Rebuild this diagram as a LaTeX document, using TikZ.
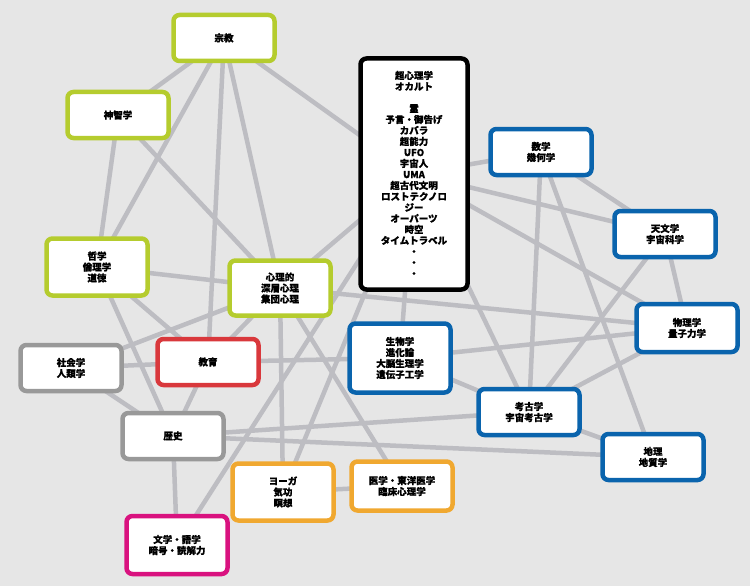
\documentclass[tikz,border=0pt]{standalone}
\usepackage{fontspec}
\setmainfont[FakeBold=0.6]{Noto Sans CJK JP}
\usetikzlibrary{backgrounds}
\definecolor{bg}{HTML}{E6E6E6}
\definecolor{link}{HTML}{BDBDC2}
\definecolor{lime}{HTML}{B5CC2E}
\definecolor{rouge}{HTML}{D9383C}
\definecolor{slate}{HTML}{999999}
\definecolor{ocean}{HTML}{0A64AD}
\definecolor{amber}{HTML}{F0A830}
\definecolor{magenta2}{HTML}{D9127F}
\tikzset{
  every picture/.style={font={\fontsize{9.5}{11}\selectfont\bfseries}},
  topic/.style={draw, fill=white, line width=4.5pt, rounded corners=6pt,
    align=center, inner sep=0pt, minimum width=101pt, minimum height=46pt},
  link/.style={draw=link, line width=4.5pt}}

\begin{document}
\begin{tikzpicture}[x=1pt, y=-1pt]
  \useasboundingbox (0,0) rectangle (750,586);

  % spiritual / humanities
  \node[topic, draw=lime] (rel) at (224,38) {宗教};
  \node[topic, draw=lime] (theo) at (118,115) {神智学};
  \node[topic, draw=lime, minimum height=57pt] (phil) at (97,267) {哲学\\倫理学\\道徳};
  \node[topic, draw=lime, minimum height=55pt] (psy) at (280,288) {心理的\\深層心理\\集団心理};
  \node[topic, draw=black, minimum width=107pt, minimum height=231pt] (occ) at (414,174)
    {超心理学\\オカルト\\[11pt]霊\\予言・御告げ\\カバラ\\超能力\\UFO\\宇宙人\\UMA\\超古代文明\\ロストテクノロ\\ジー\\オーパーツ\\時空\\タイムトラベル\\・\\・\\・};
  \node[topic, draw=slate] (soc) at (71,368) {社会学\\人類学};
  \node[topic, draw=rouge] (edu) at (208,362) {教育};
  \node[topic, draw=slate] (hist) at (173,436) {歴史};
  \node[topic, draw=amber, minimum height=57pt] (yoga) at (283,492) {ヨーガ\\気功\\瞑想};
  \node[topic, draw=amber, minimum height=49pt] (med) at (402,486) {医学・東洋医学\\臨床心理学};
  \node[topic, draw=magenta2, minimum height=58pt] (lit) at (177,545) {文学・語学\\暗号・読解力};

  % sciences
  \node[topic, draw=ocean] (math) at (541,152) {数学\\幾何学};
  \node[topic, draw=ocean] (astro) at (665,234) {天文学\\宇宙科学};
  \node[topic, draw=ocean, minimum height=48pt] (phys) at (687,328) {物理学\\量子力学};
  \node[topic, draw=ocean, minimum height=69pt] (bio) at (400,358) {生物学\\進化論\\大脳生理学\\遺伝子工学};
  \node[topic, draw=ocean] (arch) at (529,412) {考古学\\宇宙考古学};
  \node[topic, draw=ocean] (geo) at (653,457) {地理\\地質学};

  % connectors under the boxes
  \begin{scope}[on background layer]
    \fill[bg] (0,0) rectangle (750,586);
    \foreach \a/\b in {rel/theo, rel/phil, rel/edu, rel/psy, rel/occ,
        theo/phil, theo/psy, phil/psy, phil/hist, phil/edu,
        soc/psy, soc/edu, soc/hist, edu/hist, psy/edu,
        psy/yoga, psy/med, psy/occ, psy/phys, hist/lit, hist/geo, hist/arch,
        lit/occ, yoga/occ, yoga/med, edu/bio,
        occ/bio, occ/math, occ/astro, occ/phys, occ/arch,
        bio/phys, bio/arch, math/arch, math/geo, math/astro,
        astro/arch, astro/phys, phys/arch, arch/geo}
      \path[link] (\a.center) -- (\b.center);
  \end{scope}
\end{tikzpicture}
\end{document}
